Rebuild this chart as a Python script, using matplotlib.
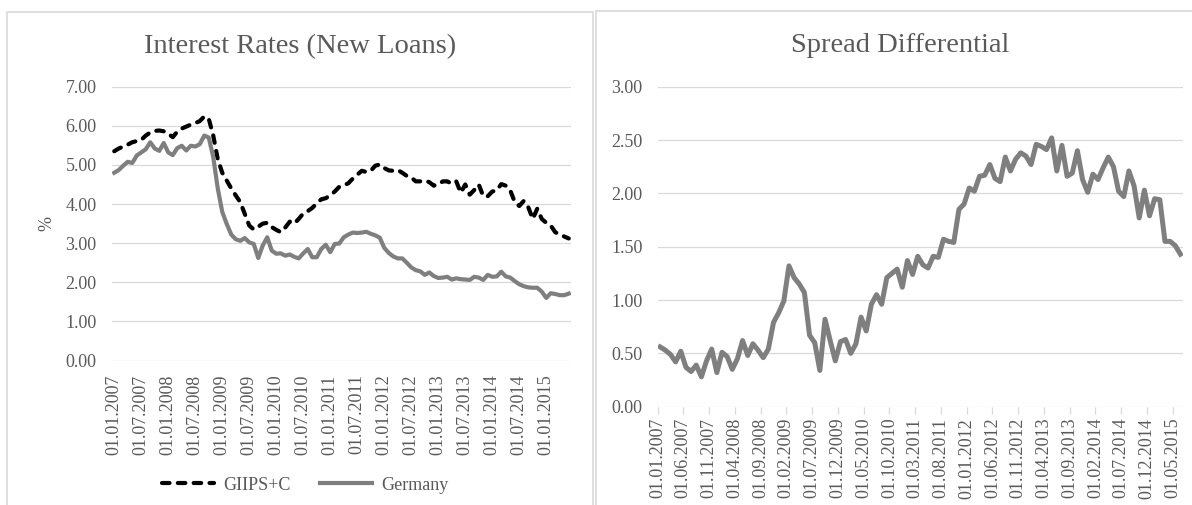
import numpy as np
import matplotlib
matplotlib.use("Agg")
import matplotlib.pyplot as plt
from matplotlib.patches import Rectangle

# monthly categories, 01.2007 - 06.2015
months = np.arange(102)

giips = [5.35, 5.42, 5.47, 5.52, 5.58, 5.61, 5.64, 5.75, 5.83, 5.87,
         5.88, 5.86, 5.80, 5.71, 5.85, 5.93, 5.98, 6.03, 6.07, 6.12,
         6.24, 6.18, 5.75, 5.15, 4.80, 4.60, 4.40, 4.22, 4.05, 3.75,
         3.45, 3.35, 3.42, 3.50, 3.52, 3.41, 3.34, 3.28, 3.40, 3.55,
         3.50, 3.62, 3.76, 3.82, 3.90, 4.02, 4.12, 4.15, 4.22, 4.32,
         4.44, 4.48, 4.53, 4.65, 4.75, 4.85, 4.82, 4.85, 4.98, 5.01,
         4.92, 4.86, 4.85, 4.87, 4.80, 4.72, 4.68, 4.58, 4.58, 4.60,
         4.56, 4.47, 4.50, 4.58, 4.58, 4.52, 4.58, 4.29, 4.50, 4.24,
         4.36, 4.50, 4.20, 4.20, 4.32, 4.35, 4.51, 4.47, 4.35, 4.05,
         3.95, 4.08, 3.92, 3.62, 3.88, 3.62, 3.52, 3.45, 3.28, 3.22,
         3.17, 3.12]

germany = [4.80, 4.87, 4.98, 5.08, 5.05, 5.24, 5.32, 5.40, 5.58, 5.42,
           5.36, 5.56, 5.32, 5.25, 5.43, 5.49, 5.37, 5.49, 5.47, 5.53,
           5.75, 5.70, 5.20, 4.40, 3.80, 3.49, 3.22, 3.10, 3.06, 3.13,
           3.02, 2.98, 2.62, 2.94, 3.15, 2.81, 2.73, 2.74, 2.68, 2.71,
           2.65, 2.61, 2.74, 2.85, 2.64, 2.64, 2.85, 2.96, 2.77, 2.98,
           2.99, 3.15, 3.22, 3.27, 3.26, 3.27, 3.29, 3.24, 3.20, 3.14,
           2.88, 2.75, 2.66, 2.61, 2.61, 2.50, 2.38, 2.31, 2.28, 2.19,
           2.25, 2.16, 2.11, 2.12, 2.14, 2.07, 2.10, 2.08, 2.07, 2.06,
           2.14, 2.12, 2.06, 2.19, 2.14, 2.15, 2.27, 2.15, 2.12, 2.03,
           1.95, 1.90, 1.87, 1.86, 1.86, 1.76, 1.60, 1.72, 1.70, 1.67,
           1.67, 1.71]

spread = [0.56, 0.53, 0.49, 0.42, 0.52, 0.37, 0.33, 0.39, 0.28, 0.43,
          0.54, 0.32, 0.51, 0.47, 0.35, 0.45, 0.62, 0.48, 0.59, 0.53,
          0.46, 0.54, 0.79, 0.88, 0.99, 1.32, 1.21, 1.15, 1.07, 0.67,
          0.60, 0.34, 0.82, 0.62, 0.43, 0.61, 0.63, 0.50, 0.59, 0.84,
          0.71, 0.96, 1.05, 0.96, 1.21, 1.25, 1.29, 1.12, 1.37, 1.24,
          1.41, 1.33, 1.30, 1.41, 1.40, 1.57, 1.55, 1.54, 1.85, 1.90,
          2.05, 2.02, 2.16, 2.17, 2.27, 2.14, 2.11, 2.34, 2.21, 2.32,
          2.38, 2.35, 2.27, 2.46, 2.44, 2.41, 2.52, 2.21, 2.45, 2.16,
          2.19, 2.40, 2.13, 2.01, 2.18, 2.13, 2.24, 2.34, 2.25, 2.02,
          1.97, 2.21, 2.07, 1.77, 2.03, 1.79, 1.95, 1.94, 1.55, 1.55,
          1.51, 1.43]

left_labels = ["01.01.2007", "01.07.2007", "01.01.2008", "01.07.2008",
               "01.01.2009", "01.07.2009", "01.01.2010", "01.07.2010",
               "01.01.2011", "01.07.2011", "01.01.2012", "01.07.2012",
               "01.01.2013", "01.07.2013", "01.01.2014", "01.07.2014",
               "01.01.2015"]
right_labels = ["01.01.2007", "01.06.2007", "01.11.2007", "01.04.2008",
                "01.09.2008", "01.02.2009", "01.07.2009", "01.12.2009",
                "01.05.2010", "01.10.2010", "01.03.2011", "01.08.2011",
                "01.01.2012", "01.06.2012", "01.11.2012", "01.04.2013",
                "01.09.2013", "01.02.2014", "01.07.2014", "01.12.2014",
                "01.05.2015"]

plt.rcParams['font.family'] = ['Liberation Serif', 'DejaVu Serif']
TXT = '#595959'
GRID = '#d9d9d9'
LINE = '#7f7f7f'

W, H = 1192, 505
fig = plt.figure(figsize=(W / 100, H / 100), dpi=100)

# panel frames
fig.add_artist(Rectangle((7 / W, -0.1), (593 - 7) / W, 1.1 - 12 / H,
                         transform=fig.transFigure, fill=False,
                         edgecolor=GRID, lw=1.2))
fig.add_artist(Rectangle((596 / W, -0.1), 0.6, 1.1 - 11 / H,
                         transform=fig.transFigure, fill=False,
                         edgecolor=GRID, lw=1.2))


def style_axes(ax):
    for s in ax.spines.values():
        s.set_visible(False)
    ax.grid(axis='y', color=GRID, lw=0.9)
    ax.set_axisbelow(True)
    ax.tick_params(axis='y', length=0, pad=11, labelsize=13, labelcolor=TXT)
    ax.yaxis.set_major_formatter(matplotlib.ticker.FormatStrFormatter('%.2f'))


# left: interest rates
ax1 = fig.add_axes([112 / W, (H - 360.5) / H, 459 / W, 273.8 / H])
style_axes(ax1)
ax1.plot(months, giips, color='black', lw=3.0, linestyle=(0, (1.8, 2.0)),
         dash_capstyle='round', label='GIIPS+C')
ax1.plot(months, germany, color=LINE, lw=3.0, solid_joinstyle='round',
         label='Germany')
ax1.set_ylim(0, 7)
ax1.set_yticks(np.arange(0, 8, 1))
ax1.set_xlim(-0.5, 101.5)
ax1.set_xticks(months[::6])
ax1.set_xticklabels(left_labels, rotation=90)
ax1.tick_params(axis='x', length=0, pad=10, labelsize=13, labelcolor=TXT)
ax1.set_ylabel('%', fontsize=13, color=TXT, labelpad=7)

fig.text(300 / W, 1 - 47 / H, 'Interest Rates (New Loans)', ha='center',
         va='center', fontsize=20.5, color=TXT)

fig.legend(loc='center', bbox_to_anchor=(305 / W, 1 - 485 / H), ncol=2,
           frameon=False, fontsize=13, handlelength=2.9, columnspacing=1.6,
           handletextpad=0.5, labelcolor=TXT)

# right: spread differential
ax2 = fig.add_axes([657.6 / W, (H - 406.7) / H, 525.4 / W, 320 / H])
style_axes(ax2)
ax2.plot(months, spread, color=LINE, lw=3.6, solid_joinstyle='round')
ax2.set_ylim(0, 3)
ax2.set_yticks(np.arange(0, 3.01, 0.5))
ax2.set_xlim(-0.5, 101.5)
ax2.set_xticks(months[::5] - 0.5)
ax2.set_xticklabels(right_labels, rotation=90)
ax2.tick_params(axis='x', length=5, width=0.9, color=GRID, pad=3,
                labelsize=13, labelcolor=TXT)

fig.text(900 / W, 1 - 46 / H, 'Spread Differential', ha='center',
         va='center', fontsize=20.5, color=TXT)

fig.savefig('out.png', dpi=100)
